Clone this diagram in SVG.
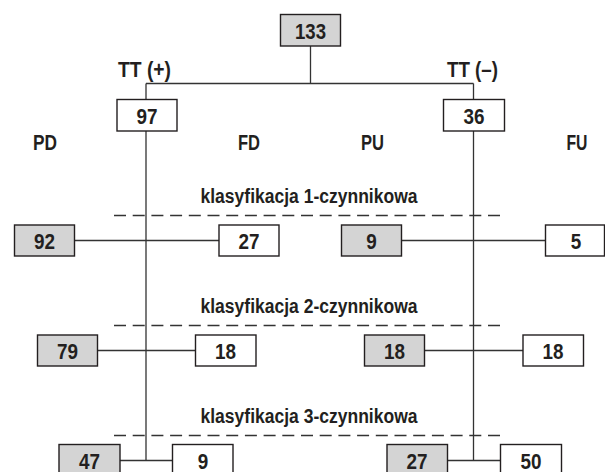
<svg xmlns="http://www.w3.org/2000/svg" width="605" height="472" viewBox="0 0 605 472">
<style>
.box{stroke:#231f20;stroke-width:1.4;fill:#fff}
.g{fill:#d4d4d4}
.ln{stroke:#333;stroke-width:1.3;fill:none}
.dash{stroke:#333;stroke-width:1.3;fill:none;stroke-dasharray:12 6.7}
text{font-family:"Liberation Sans",Arial,sans-serif;font-weight:bold;fill:#231f20;text-anchor:middle}
.n{font-size:22px}
.lb{font-size:22px}
.k{font-size:20px}
</style>
<rect width="605" height="472" fill="#fff"/>
<g id="connectors">
<path class="ln" d="M310.5 46V83.5M146 83.5H473.5M146 83.5V99M473.5 83.5V99"/>
<path class="ln" d="M146 131V460.5M473.5 131V460.5"/>
<path class="ln" d="M74.5 240.5H219M401.5 240.5H545.5"/>
<path class="ln" d="M97.5 350.5H195.5M424.5 350.5H523"/>
<path class="ln" d="M120 460.5H172.5M447.5 460.5H500.5"/>
<path class="dash" d="M114 215.5H506M114 325.5H506M114 435.5H506"/>
</g>
<g id="labels">
<text class="lb" x="144.5" y="77" textLength="53" lengthAdjust="spacingAndGlyphs">TT (+)</text>
<text class="lb" x="472.5" y="77" textLength="51" lengthAdjust="spacingAndGlyphs">TT (–)</text>
<text class="lb" x="45" y="149.5" textLength="24" lengthAdjust="spacingAndGlyphs">PD</text>
<text class="lb" x="249" y="149.5" textLength="22" lengthAdjust="spacingAndGlyphs">FD</text>
<text class="lb" x="372.5" y="149.5" textLength="23" lengthAdjust="spacingAndGlyphs">PU</text>
<text class="lb" x="577" y="149.5" textLength="21" lengthAdjust="spacingAndGlyphs">FU</text>
<text class="k" x="309" y="203" textLength="217" lengthAdjust="spacingAndGlyphs">klasyfikacja 1-czynnikowa</text>
<text class="k" x="309" y="313" textLength="217" lengthAdjust="spacingAndGlyphs">klasyfikacja 2-czynnikowa</text>
<text class="k" x="309" y="423" textLength="217" lengthAdjust="spacingAndGlyphs">klasyfikacja 3-czynnikowa</text>
</g>
<g id="n133"><rect class="box g" x="280.5" y="14.5" width="60" height="31.5"/><text class="n" x="310.5" y="38.5" textLength="31" lengthAdjust="spacingAndGlyphs">133</text></g>
<g id="n97"><rect class="box" x="117" y="99.5" width="60" height="31.5"/><text class="n" x="147" y="123.5" textLength="21" lengthAdjust="spacingAndGlyphs">97</text></g>
<g id="n36"><rect class="box" x="443.5" y="99.5" width="61" height="31.5"/><text class="n" x="474" y="123.5" textLength="21" lengthAdjust="spacingAndGlyphs">36</text></g>
<g id="n92"><rect class="box g" x="14.5" y="225" width="60" height="31"/><text class="n" x="44.5" y="249" textLength="21" lengthAdjust="spacingAndGlyphs">92</text></g>
<g id="n27a"><rect class="box" x="219" y="225" width="60" height="31"/><text class="n" x="249" y="249" textLength="21" lengthAdjust="spacingAndGlyphs">27</text></g>
<g id="n9a"><rect class="box g" x="341.5" y="225" width="60" height="31"/><text class="n" x="371.5" y="249" textLength="10.5" lengthAdjust="spacingAndGlyphs">9</text></g>
<g id="n5"><rect class="box" x="545.5" y="225" width="59" height="31"/><text class="n" x="576" y="249" textLength="10.5" lengthAdjust="spacingAndGlyphs">5</text></g>
<g id="n79"><rect class="box g" x="37.5" y="335" width="60" height="31"/><text class="n" x="67.5" y="359" textLength="21" lengthAdjust="spacingAndGlyphs">79</text></g>
<g id="n18a"><rect class="box" x="195.5" y="335" width="60.5" height="31"/><text class="n" x="225.5" y="359" textLength="21" lengthAdjust="spacingAndGlyphs">18</text></g>
<g id="n18b"><rect class="box g" x="364.5" y="335" width="60" height="31"/><text class="n" x="394.5" y="359" textLength="21" lengthAdjust="spacingAndGlyphs">18</text></g>
<g id="n18c"><rect class="box" x="523" y="335" width="60.5" height="31"/><text class="n" x="553" y="359" textLength="21" lengthAdjust="spacingAndGlyphs">18</text></g>
<g id="n47"><rect class="box g" x="59" y="444.5" width="61" height="31"/><text class="n" x="89.5" y="468.5" textLength="21" lengthAdjust="spacingAndGlyphs">47</text></g>
<g id="n9b"><rect class="box" x="172.5" y="444.5" width="60.5" height="31"/><text class="n" x="203" y="468.5" textLength="10.5" lengthAdjust="spacingAndGlyphs">9</text></g>
<g id="n27b"><rect class="box g" x="387" y="444.5" width="60.5" height="31"/><text class="n" x="417" y="468.5" textLength="21" lengthAdjust="spacingAndGlyphs">27</text></g>
<g id="n50"><rect class="box" x="500.5" y="444.5" width="61" height="31"/><text class="n" x="531" y="468.5" textLength="21" lengthAdjust="spacingAndGlyphs">50</text></g>
</svg>
